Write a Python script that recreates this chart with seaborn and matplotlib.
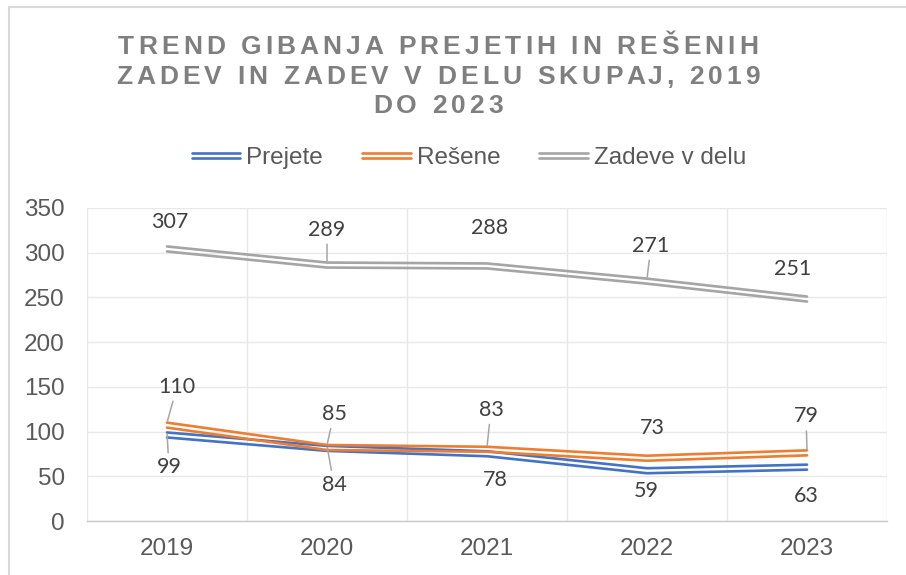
import matplotlib
matplotlib.use("Agg")
import matplotlib.pyplot as plt
import seaborn as sns
import pandas as pd
import numpy as np
from matplotlib.lines import Line2D
from matplotlib.legend_handler import HandlerBase
from matplotlib.patches import Rectangle
from matplotlib.font_manager import FontProperties
import matplotlib.transforms as mtransforms

# ---------------- data ----------------
years = [2019, 2020, 2021, 2022, 2023]
prejete = [99, 84, 78, 59, 63]
resene = [110, 85, 83, 73, 79]
zadeve_v_delu = [307, 289, 288, 271, 251]
series_names = ["Prejete", "Rešene", "Zadeve v delu"]
title_lines = ["TREND GIBANJA PREJETIH IN REŠENIH",
               "ZADEV IN ZADEV V DELU SKUPAJ, 2019",
               "DO 2023"]
yticks = [0, 50, 100, 150, 200, 250, 300, 350]

# ---------------- styles ----------------
colors = {"Prejete": "#4472C4", "Rešene": "#ED7D31", "Zadeve v delu": "#A5A5A5"}
# label offsets (pixels) and whether a leader line is drawn
label_style = {
    "Prejete": [((2, -35), True), ((7, -39), True), ((8, -29), False), ((-1, -23), False), ((-1, -31), False)],
    "Rešene": [((10, 36), True), ((7, 31), True), ((4, 37), True), ((5, 28), False), ((-1, 34), True)],
    "Zadeve v delu": [((3, 24), False), ((0, 33), True), ((3, 35), False), ((4, 33), True), ((-14, 28), False)],
}

W, H, DPI = 906, 575, 100
sns.set_theme(style="white")
plt.rcParams["font.family"] = ["Liberation Sans", "DejaVu Sans"]

fig = plt.figure(figsize=(W / DPI, H / DPI), dpi=DPI)
fig.patch.set_facecolor("white")
ax = fig.add_axes([87 / W, 54 / H, 800 / W, 313 / H])

df = pd.DataFrame({
    "year": years * 3,
    "value": prejete + resene + zadeve_v_delu,
    "series": [series_names[0]] * 5 + [series_names[1]] * 5 + [series_names[2]] * 5,
})

# double (compound) lines: two thin parallel strokes
for dy_px in (0.0, -5.0):
    off = mtransforms.offset_copy(ax.transData, fig=fig, x=0, y=dy_px, units="dots")
    sns.lineplot(data=df, x="year", y="value", hue="series", palette=colors,
                 hue_order=series_names, sort=False, legend=False, ax=ax,
                 linewidth=1.9, transform=off)

ax.set_xlim(2018.5, 2023.5)
ax.set_ylim(0, 350)
ax.set_yticks(yticks)
ax.set_xticks(years)
ax.set_xticklabels([str(y) for y in years])
ax.set_xlabel("")
ax.set_ylabel("")
ax.set_xticks([2018.5 + i for i in range(6)], minor=True)
ax.grid(False)
ax.yaxis.grid(True, color="#e8e8e8", linewidth=1.0)
ax.xaxis.grid(True, which="minor", color="#e8e8e8", linewidth=1.0)
ax.set_axisbelow(True)
for s in ["top", "right", "left"]:
    ax.spines[s].set_visible(False)
ax.spines["bottom"].set_color("#c8c8c8")
ax.spines["bottom"].set_linewidth(1.0)
ax.tick_params(axis="both", which="both", length=0, labelsize=17.5, colors="#595959")
ax.tick_params(axis="y", pad=16)
ax.tick_params(axis="x", pad=12)
ax.set_facecolor("white")

# data labels
label_font = ["Lato", "DejaVu Sans"]
for name, vals in zip(series_names, [prejete, resene, zadeve_v_delu]):
    for x, v, (offs, leader) in zip(years, vals, label_style[name]):
        kw = dict(xy=(x, v), xytext=offs, textcoords="offset pixels",
                  ha="center", va="center", fontsize=15.5, color="#404040",
                  family=label_font)
        if leader:
            kw["arrowprops"] = dict(arrowstyle="-", color="#a6a6a6", lw=1.1,
                                    shrinkA=1, shrinkB=1)
        ax.annotate(str(v), **kw)

# legend with double-line handles
class DoubleLineHandler(HandlerBase):
    def create_artists(self, legend, orig_handle, xdescent, ydescent,
                       width, height, fontsize, trans):
        c = orig_handle.get_color()
        y = height / 2 - ydescent
        out = []
        for d in (1.8, -1.8):
            ln = Line2D([-xdescent, width - xdescent], [y + d, y + d],
                        color=c, lw=1.9, transform=trans)
            out.append(ln)
        return out

handles = [Line2D([], [], color=colors[n]) for n in series_names]
fig.legend(handles, series_names, loc="center", bbox_to_anchor=(469 / W, 1 - 158 / H),
           ncol=3, frameon=False, fontsize=17.5, handlelength=2.0, handletextpad=0.25,
           columnspacing=1.6, labelcolor="#595959",
           handler_map={Line2D: DoubleLineHandler()})

# letter-spaced title
fig.canvas.draw()
renderer = fig.canvas.get_renderer()
tprop = FontProperties(family=["Liberation Sans", "DejaVu Sans"], weight="bold", size=19)

def adv(s):
    if not s:
        return 0.0
    w1 = renderer.get_text_width_height_descent("|" + s + "|", tprop, ismath=False)[0]
    w0 = renderer.get_text_width_height_descent("||", tprop, ismath=False)[0]
    return w1 - w0

target_w = 640.0
first = title_lines[0]
last_w = renderer.get_text_width_height_descent(first[-1], tprop, ismath=False)[0]
nat = adv(first[:-1]) + last_w
spacing = (target_w - nat) / (len(first) - 1)
baselines = [54, 83.5, 113]
cx = 438
for line, by in zip(title_lines, baselines):
    lw_ = adv(line[:-1]) + renderer.get_text_width_height_descent(line[-1], tprop, ismath=False)[0]
    total = lw_ + spacing * (len(line) - 1)
    x0 = cx - total / 2
    for i, ch in enumerate(line):
        if ch == " ":
            continue
        x = x0 + adv(line[:i]) + spacing * i
        fig.text(x / W, 1 - by / H, ch, fontproperties=tprop, color="#7f7f7f",
                 ha="left", va="baseline")

# chart area border
fig.add_artist(Rectangle((9 / W, -0.1), 1.2, (H - 6.5) / H + 0.1, transform=fig.transFigure,
                         fill=False, edgecolor="#d9d9d9", linewidth=1.5))

fig.savefig("out.png", dpi=DPI)
